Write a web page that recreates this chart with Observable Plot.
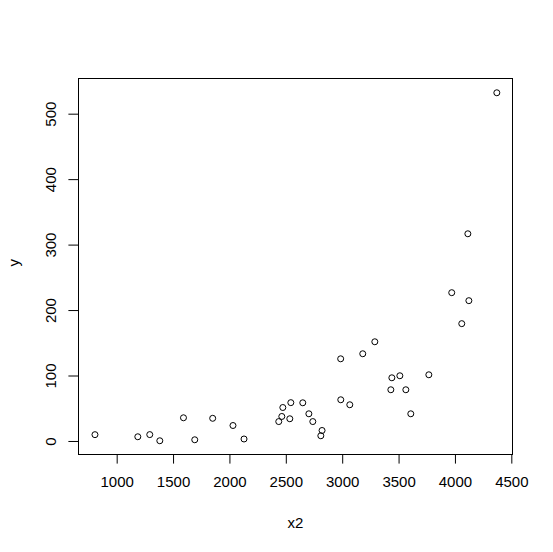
<!DOCTYPE html>
<html>
<head>
<meta charset="utf-8">
<script src="https://cdn.jsdelivr.net/npm/d3@7"></script>
<script src="https://cdn.jsdelivr.net/npm/@observablehq/plot@0.6"></script>
<style>
  html, body { margin: 0; padding: 0; background: white; }
</style>
</head>
<body>
<div id="chart"></div>
<script>
const x2 = [803, 1183, 1289, 1378, 1588, 1688, 1847, 2027, 2125, 2433, 2460, 2469, 2531, 2540, 2646, 2700, 2735, 2817, 2806, 2982, 2983, 3063, 3178, 3285, 3436, 3507, 3427, 3560, 3604, 3764, 3967, 4056, 4110, 4119, 4367];
const yv = [10.4, 7.2, 10.5, 1.1, 36.2, 2.6, 35.4, 24.4, 3.8, 30.4, 38.2, 51.9, 34.7, 59.3, 59.1, 42.3, 30.4, 16.8, 8.7, 126.3, 63.7, 56.1, 134.0, 152.3, 97.3, 100.4, 79.0, 79.0, 42.3, 101.9, 227.3, 180.0, 317.3, 215.1, 532.7];
const xTicks = [1000, 1500, 2000, 2500, 3000, 3500, 4000, 4500];
const yTicks = [0, 100, 200, 300, 400, 500];
const xLabel = "x2";
const yLabel = "y";

const data = x2.map((x, i) => ({x, y: yv[i]}));

const chart = Plot.plot({
  width: 553,
  height: 552,
  marginLeft: 78,
  marginRight: 41,
  marginTop: 78,
  marginBottom: 98,
  x: {domain: [657, 4506]},
  y: {domain: [-19.9, 554.5]},
  style: {fontFamily: "'Liberation Sans', Arial, sans-serif", fontSize: "15px", background: "white", color: "black"},
  marks: [
    Plot.frame({stroke: "black", strokeWidth: 1}),
    Plot.axisX({ticks: xTicks, tickSize: 9.6, tickPadding: 12, tickFormat: d => String(d), label: null, fontSize: 15}),
    Plot.axisY({ticks: yTicks, tickSize: 9.6, tickFormat: () => "", label: null}),
    Plot.text(yTicks, {y: d => d, text: d => String(d), frameAnchor: "left", dx: -27.5, rotate: -90, textAnchor: "middle", lineAnchor: "middle", fontSize: 15}),
    Plot.dot(data, {x: "x", y: "y", r: 3, stroke: "black", strokeWidth: 1, fill: "none"}),
    Plot.text([xLabel], {text: d => d, frameAnchor: "bottom", dy: 69, lineAnchor: "middle", fontSize: 15}),
    Plot.text([yLabel], {text: d => d, frameAnchor: "left", dx: -64.5, rotate: -90, lineAnchor: "middle", fontSize: 15})
  ]
});
document.getElementById("chart").appendChild(chart);
</script>
</body>
</html>
